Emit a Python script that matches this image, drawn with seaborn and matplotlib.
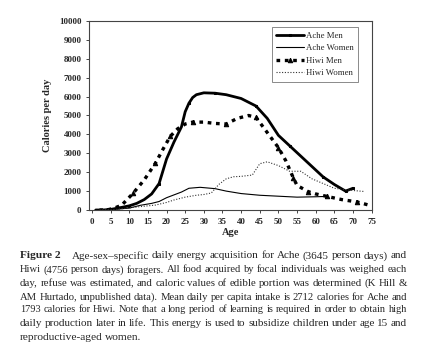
import matplotlib
matplotlib.use("Agg")
from matplotlib import pyplot as plt
import numpy as np
import pandas as pd
import seaborn as sns

# ---- data ----
ache_men_age = [1, 3, 5, 8, 10, 12, 14, 16, 18, 20, 22, 24, 25, 26, 27, 28, 30, 33, 36, 40, 44, 47, 50, 53, 56, 59, 62, 65, 68, 70]
ache_men_cal = [0, 0, 30, 140, 220, 350, 550, 850, 1400, 2700, 3600, 4400, 5200, 5650, 5950, 6100, 6200, 6180, 6100, 5900, 5500, 4850, 3950, 3400, 2850, 2300, 1750, 1350, 1000, 1150]

ache_women_age = [1, 5, 10, 13, 16, 18, 20, 22, 24, 26, 29, 33, 36, 40, 45, 50, 55, 60, 63]
ache_women_cal = [0, 20, 100, 250, 350, 450, 650, 800, 950, 1150, 1200, 1130, 1000, 870, 780, 730, 680, 700, 720]

hiwi_men_age = [2, 4, 6, 8, 11, 14, 17, 19, 21, 23, 25, 27, 30, 33, 36, 39, 42, 44, 47, 50, 52, 54, 55, 58, 60, 63, 67, 71, 75]
hiwi_men_cal = [0, 0, 100, 260, 880, 1590, 2470, 3200, 3900, 4300, 4550, 4650, 4650, 4580, 4550, 4850, 5000, 4900, 4100, 3300, 2600, 1700, 1300, 970, 850, 720, 550, 430, 220]

hiwi_women_age = [2, 6, 9, 13, 17, 20, 22, 25, 28, 30, 32, 34, 36, 38, 40, 43, 45, 47, 50, 53, 56, 59, 62, 65, 69, 73]
hiwi_women_cal = [0, 20, 90, 180, 260, 400, 530, 680, 780, 820, 900, 1350, 1650, 1760, 1780, 1850, 2450, 2550, 2350, 2050, 2050, 1650, 1400, 1150, 1050, 980]

x_ticks = list(range(0, 80, 5))
y_ticks = list(range(0, 11000, 1000))

caption_lines = [
    "Age-sex–specific daily energy acquisition for Ache (3645 person days) and",
    "Hiwi (4756 person days) foragers. All food acquired by focal individuals was weighed each",
    "day, refuse was estimated, and caloric values of edible portion was determined (K Hill &",
    "AM Hurtado, unpublished data). Mean daily per capita intake is 2712 calories for Ache and",
    "1793 calories for Hiwi. Note that a long period of learning is required in order to obtain high",
    "daily production later in life. This energy is used to subsidize children under age 15 and",
    "reproductive-aged women.",
]

sns.set_style("white")
plt.rcParams["font.family"] = "serif"
plt.rcParams["font.serif"] = ["Liberation Serif", "DejaVu Serif"]

W, H = 426, 362
fig = plt.figure(figsize=(W / 100, H / 100), dpi=100)
ax = fig.add_axes([89 / W, 1 - 210 / H, 283 / W, 189 / H])

sns.lineplot(x=ache_men_age, y=ache_men_cal, ax=ax, color="black", lw=2.0,
             marker="s", markersize=2, mec="black",
             markevery=[0, 2, 4, 8, 13, 17, 20, 23, 26, 28, 29], label="Ache Men")
sns.lineplot(x=ache_women_age, y=ache_women_cal, ax=ax, color="black", lw=0.8,
             label="Ache Women")
sns.lineplot(x=hiwi_men_age, y=hiwi_men_cal, ax=ax, color="black", lw=2.4,
             linestyle=(0, (1.1, 1.4)), marker="^", markersize=3.2, mec="black",
             markevery=[1, 4, 6, 8, 11, 14, 17, 19, 21, 23, 25, 27], label="Hiwi Men")
sns.lineplot(x=hiwi_women_age, y=hiwi_women_cal, ax=ax, color="#333333", lw=0.8,
             linestyle=(0, (1, 1.5)), label="Hiwi Women")

ax.set_xlim(-0.8, 75.1)
ax.set_ylim(0, 10000)
ax.set_xticks(x_ticks)
ax.set_yticks(y_ticks)
ax.tick_params(axis="both", direction="out", length=2.5, width=0.6, labelsize=6.5,
               bottom=True, left=True, pad=3)
for lab in ax.get_xticklabels() + ax.get_yticklabels():
    lab.set_fontweight("bold")
for sp in ax.spines.values():
    sp.set_color("#444444")
    sp.set_linewidth(0.8)
    sp.set_visible(True)

ax.set_xlabel("Age", fontsize=7.5, fontweight="bold", labelpad=2)
ax.set_ylabel("Calories per day", fontsize=7.5, fontweight="bold", labelpad=5)

leg = ax.legend(loc="upper right", bbox_to_anchor=(0.967, 0.99), fontsize=6.3,
                frameon=True, fancybox=False, handlelength=3.2, labelspacing=0.5,
                borderpad=0.5, handletextpad=0.2)
leg.get_frame().set_edgecolor("#555555")
leg.get_frame().set_linewidth(0.6)

# ---- justified caption ----
renderer = fig.canvas.get_renderer()
x0, x1 = 20, 407
ys = [256, 270, 283, 297, 310, 323, 337]
fs_max = 8.6
min_gap = 2.4
for i, line in enumerate(caption_lines):
    words = line.split(" ")
    start = x0
    if i == 0:
        t = fig.text(x0 / W, 1 - ys[i] / H, "Figure 2", fontsize=8.2, fontweight="bold",
                     va="center", ha="left")
        start = x0 + t.get_window_extent(renderer).width + 11
    size = 8.2 if i == len(caption_lines) - 1 else fs_max
    while True:
        texts = [fig.text(0, 1 - ys[i] / H, w, fontsize=size, va="center", ha="left")
                 for w in words]
        widths = [t.get_window_extent(renderer).width for t in texts]
        last = i == len(caption_lines) - 1
        gap = 2.4 if last else (x1 - start - sum(widths)) / (len(texts) - 1)
        if last or gap >= min_gap or size < 6.5:
            break
        for t in texts:
            t.remove()
        size -= 0.1
    pos = start
    for t, w in zip(texts, widths):
        t.set_x(pos / W)
        pos += w + gap

fig.savefig("out.png", dpi=100, facecolor="white")
